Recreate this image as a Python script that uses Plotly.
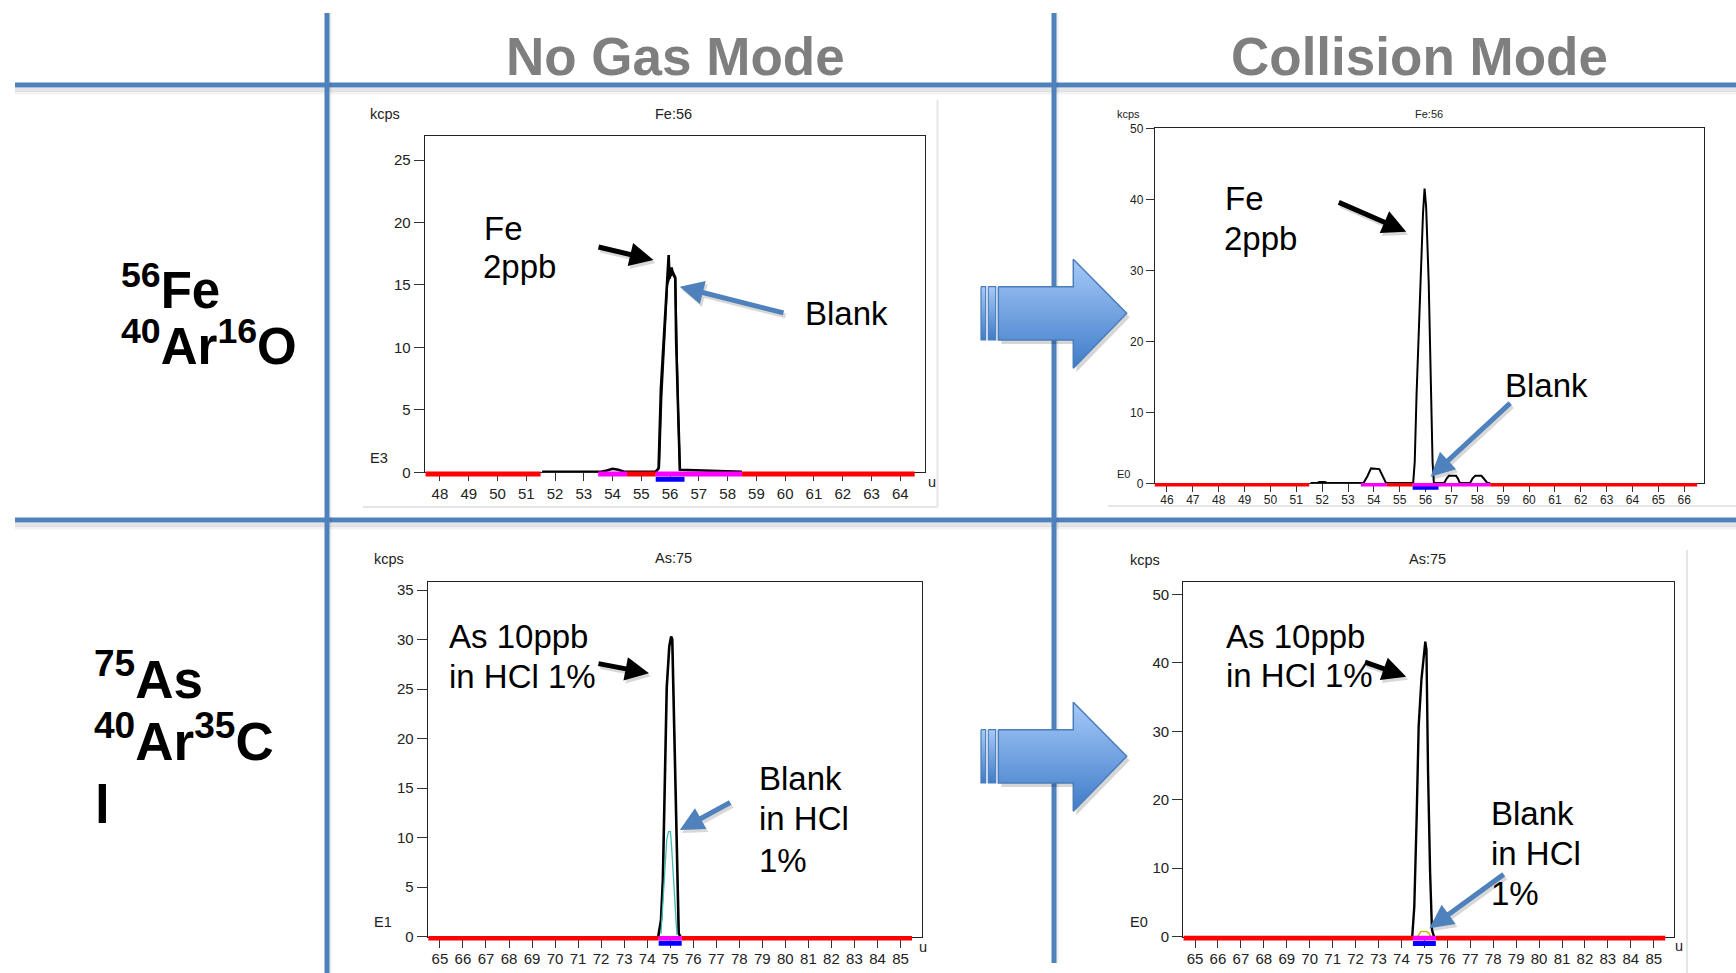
import plotly.graph_objects as go

# ======================= DATA =======================
# Panel 1 : Fe:56, No Gas mode (kcps, E3)
fe_ng_mass = [51.55, 53.6, 53.8, 54.0, 54.2, 54.4, 55.5, 55.6, 55.68, 55.79, 55.88, 55.95,
              55.98, 56.01, 56.05, 56.08, 56.13, 56.18, 56.21, 56.27, 56.34, 58.5]
fe_ng_std = [0.05, 0.05, 0.15, 0.28, 0.2, 0.05, 0.05, 0.3, 6.7, 11.3, 15.3, 17.4,
             15.5, 15.8, 16.4, 16.1, 15.8, 15.6, 10.5, 5.1, 0.2, 0.05]
fe_ng_blank_mass = [55.5, 55.62, 55.7, 55.8, 55.9, 55.98, 56.08, 56.18, 56.22, 56.28, 56.34]
fe_ng_blank = [0.05, 0.4, 6.0, 11.0, 15.0, 15.6, 15.9, 15.5, 10.2, 4.8, 0.2]
fe_ng_ticks = [48, 49, 50, 51, 52, 53, 54, 55, 56, 57, 58, 59, 60, 61, 62, 63, 64]
fe_ng_yticks = [0, 5, 10, 15, 20, 25]

# Panel 2 : Fe:56, Collision mode (kcps, E0)
fe_col_mass = [51.55, 51.8, 51.9, 52.1, 52.2, 53.6, 53.75, 53.89, 54.21, 54.35, 54.47,
               55.52, 55.58, 55.65, 55.8, 55.9, 55.96, 56.02, 56.12, 56.2, 56.27, 56.32,
               56.72, 56.82, 56.9, 57.18, 57.26, 57.32, 57.72, 57.82, 57.92, 58.16, 58.26,
               58.39, 58.5]
fe_col_std = [0.05, 0.05, 0.2, 0.2, 0.05, 0.05, 1.0, 2.1, 2.0, 1.0, 0.05,
              0.05, 3.0, 12.4, 28.4, 38.0, 41.5, 39.0, 28.4, 14.3, 3.0, 0.05,
              0.05, 0.7, 1.05, 1.05, 0.6, 0.05, 0.05, 0.7, 1.05, 1.05, 0.6,
              0.05, 0.05]
fe_col_ticks = [46, 47, 48, 49, 50, 51, 52, 53, 54, 55, 56, 57, 58, 59, 60, 61, 62, 63, 64, 65, 66]
fe_col_yticks = [0, 10, 20, 30, 40, 50]

# Panel 3 : As:75, No Gas mode (kcps, E1)
as_ng_mass = [74.48, 74.6, 74.68, 74.76, 74.85, 74.96, 75.04, 75.09, 75.17, 75.22, 75.29, 75.37, 75.45]
as_ng_std = [0.0, 1.7, 5.7, 15.8, 25.2, 29.3, 30.3, 30.0, 21.2, 16.5, 7.1, 0.3, 0.0]
as_ng_blank_mass = [74.6, 74.73, 74.85, 74.93, 75.01, 75.06, 75.14, 75.22, 75.29]
as_ng_blank = [0.3, 5.7, 9.8, 10.6, 10.6, 9.1, 5.7, 2.0, 0.2]
as_ticks = [65, 66, 67, 68, 69, 70, 71, 72, 73, 74, 75, 76, 77, 78, 79, 80, 81, 82, 83, 84, 85]
as_ng_yticks = [0, 5, 10, 15, 20, 25, 30, 35]

# Panel 4 : As:75, Collision mode (kcps, E0)
as_col_mass = [74.47, 74.56, 74.66, 74.75, 74.87, 74.99, 75.04, 75.09, 75.16, 75.25, 75.33, 75.42]
as_col_std = [0.0, 4.4, 17.0, 30.7, 37.5, 42.4, 43.1, 41.9, 23.9, 9.3, 1.0, 0.0]
as_col_blank_mass = [74.7, 74.78, 74.85, 75.1, 75.2, 75.27]
as_col_blank = [0.0, 0.5, 0.75, 0.75, 0.5, 0.0]
as_col_yticks = [0, 10, 20, 30, 40, 50]

# acquisition mass windows (u)
fe_ng_red = [[47.5, 51.5], [54.5, 55.5], [58.5, 64.5]]
fe_col_red = [[45.5, 51.5], [54.5, 55.5], [58.5, 66.5]]
fe_magenta = [[53.5, 54.5], [55.5, 58.5]]
fe_blue = [[55.5, 56.5]]
as_red = [[64.5, 74.5], [75.5, 85.5]]
as_magenta = [[74.5, 75.5]]
as_blue = [[74.5, 75.5]]

# ======================= LAYOUT CONSTANTS (pixels) =======================
W, H = 1736, 973
FONT = "Liberation Sans, Arial, Helvetica, sans-serif"
BLUE = "#4f81bd"


def fx(x):
    return x / W


def fy(y):
    return 1 - y / H


panels = [
    dict(L=424.7, R=925.0, T=135.7, Z=472.3, xr=[47.47, 64.86], yr=[0, 26.95],
         xt=fe_ng_ticks, yt=fe_ng_yticks, fs=15, ytl=10, xtl=8, lw=2.6, xso=0,
         series=[(fe_ng_blank_mass, fe_ng_blank, "#111111", 2.0),
                 (fe_ng_mass, fe_ng_std, "black", 2.6)],
         red=fe_ng_red, mag=fe_magenta, blue=fe_blue, ry=-1.8, rw=5, by=-7.0, bw=5,
         kcps=(369, 114), title=("Fe:56", 673.4, 114), exp=("E3", 369, 458), u=(927, 482), sfs=14.5),
    dict(L=1154.8, R=1704.4, T=128.3, Z=483.3, xr=[45.53, 66.78], yr=[0, 50],
         xt=fe_col_ticks, yt=fe_col_yticks, fs=12, ytl=8, xtl=8, lw=2.0, xso=-3,
         series=[(fe_col_mass, fe_col_std, "black", 2.0)],
         red=fe_col_red, mag=fe_magenta, blue=fe_blue, ry=-1.5, rw=3.5, by=-4.6, bw=3.6,
         kcps=(1116, 114), title=("Fe:56", 1429, 114), exp=("E0", 1116, 474), u=None, sfs=11),
    dict(L=427.7, R=921.7, T=581.7, Z=936.7, xr=[64.47, 85.92], yr=[0, 35.84],
         xt=as_ticks, yt=as_ng_yticks, fs=15, ytl=10, xtl=10, lw=2.6, xso=-2,
         series=[(as_ng_mass, as_ng_std, "black", 2.6),
                 (as_ng_blank_mass, as_ng_blank, "#3cbcb4", 1.3)],
         red=as_red, mag=as_magenta, blue=as_blue, ry=-1.5, rw=4.5, by=-6.6, bw=5,
         kcps=(373, 559), title=("As:75", 673.4, 558), exp=("E1", 373, 922), u=(918, 947), sfs=14.5),
    dict(L=1183.1, R=1673.7, T=581.7, Z=936.7, xr=[64.48, 85.87], yr=[0, 51.84],
         xt=as_ticks, yt=as_col_yticks, fs=15, ytl=10, xtl=10, lw=2.6, xso=-2,
         series=[(as_col_mass, as_col_std, "black", 2.4),
                 (as_col_blank_mass, as_col_blank, "#c8bc00", 1.5)],
         red=as_red, mag=as_magenta, blue=as_blue, ry=-1.4, rw=4.6, by=-6.8, bw=5,
         kcps=(1129, 560), title=("As:75", 1427.4, 559), exp=("E0", 1129, 922), u=(1674, 946), sfs=14.5),
]

fig = go.Figure()
layout = dict(width=W, height=H, autosize=False,
              margin=dict(l=0, r=0, t=0, b=0, pad=0, autoexpand=False),
              paper_bgcolor="white", plot_bgcolor="rgba(0,0,0,0)", showlegend=False)
annotations = []
shapes = []


def segs(windows, level):
    xs, ys = [], []
    for a, b in windows:
        xs += [a, b, None]
        ys += [level, level, None]
    return xs, ys


for i, p in enumerate(panels):
    n = i + 1          # main subplot
    m = i + 5          # mass-window bar strip
    xa, ya = f"x{n}", f"y{n}"
    xb, yb = f"x{m}", f"y{m}"
    for (mx, my, col, w) in p["series"]:
        fig.add_trace(go.Scatter(x=mx, y=my, mode="lines", line=dict(color=col, width=w),
                                 xaxis=xa, yaxis=ya, hoverinfo="skip"))
    for key, col, lev, wid in [("red", "#ff0000", p["ry"], p["rw"]),
                               ("blue", "#0000ff", p["by"], p["bw"]),
                               ("mag", "#ff00ff", p["ry"], p["rw"])]:
        sx, sy = segs(p[key], lev)
        fig.add_trace(go.Scatter(x=sx, y=sy, mode="lines", line=dict(color=col, width=wid),
                                 xaxis=xb, yaxis=yb, hoverinfo="skip"))
    dom_x = [fx(p["L"]), fx(p["R"])]
    tickfont = dict(family=FONT, size=p["fs"], color="#222")
    layout[f"xaxis{n}"] = dict(domain=dom_x, range=p["xr"], anchor=ya, tickmode="array",
                               tickvals=p["xt"], ticktext=[str(t) for t in p["xt"]],
                               ticks="outside", ticklen=p["xtl"], tickcolor="#333", tickwidth=1,
                               showline=True, linecolor="#222", linewidth=1, mirror=True,
                               showgrid=False, zeroline=False, tickfont=tickfont, fixedrange=True,
                               automargin=False, ticklabelstandoff=p["xso"])
    layout[f"yaxis{n}"] = dict(domain=[fy(p["Z"]), fy(p["T"])], range=p["yr"], anchor=xa,
                               tickmode="array", tickvals=p["yt"], ticktext=[str(t) for t in p["yt"]],
                               ticks="outside", ticklen=p["ytl"], tickcolor="#333", tickwidth=1,
                               showline=True, linecolor="#222", linewidth=1, mirror=True,
                               showgrid=False, zeroline=False, tickfont=tickfont, fixedrange=True,
                               automargin=False)
    layout[f"xaxis{m}"] = dict(domain=dom_x, range=p["xr"], anchor=yb, visible=False, fixedrange=True)
    layout[f"yaxis{m}"] = dict(domain=[fy(p["Z"] + 14), fy(p["Z"] - 6)], range=[-14, 6],
                               anchor=xb, visible=False, fixedrange=True)

    sf = dict(family=FONT, size=p["sfs"], color="#222")
    annotations.append(dict(text="kcps", x=p["kcps"][0], y=p["kcps"][1], xref="x9", yref="y9",
                            xanchor="left", yanchor="middle", showarrow=False, font=sf, borderpad=0))
    t, tx, ty = p["title"]
    annotations.append(dict(text=t, x=tx, y=ty, xref="x9", yref="y9", xanchor="center",
                            yanchor="middle", showarrow=False, font=sf, borderpad=0))
    e, ex, ey = p["exp"]
    annotations.append(dict(text=e, x=ex, y=ey, xref="x9", yref="y9", xanchor="left",
                            yanchor="middle", showarrow=False, font=sf, borderpad=0))
    if p["u"]:
        annotations.append(dict(text="u", x=p["u"][0], y=p["u"][1], xref="x9", yref="y9",
                                xanchor="left", yanchor="middle", showarrow=False, font=sf, borderpad=0))

# overlay pixel axes for decorations
layout["xaxis9"] = dict(domain=[0, 1], range=[0, W], anchor="y9", visible=False, fixedrange=True)
layout["yaxis9"] = dict(domain=[0, 1], range=[H, 0], anchor="x9", visible=False, fixedrange=True)

# ---------------- block arrows (gradient) ----------------
for dy in (0, 443):
    top, bot = 259.3 + dy, 368.3 + dy
    body_t, body_b = 286.7 + dy, 340.0 + dy
    tip = 313.3 + dy
    poly_x = [998.3, 1073.3, 1073.3, 1126.7, 1073.3, 1073.3, 998.3, 998.3]
    poly_y = [body_t, body_t, top, tip, bot, body_b, body_b, body_t]
    fig.add_trace(go.Scatter(x=[v + 3 for v in poly_x], y=[v + 4 for v in poly_y], mode="lines",
                             fill="toself", fillcolor="rgba(0,0,0,0.16)", line=dict(width=0),
                             xaxis="x9", yaxis="y9", hoverinfo="skip"))
    grad = dict(type="vertical", colorscale=[[0, "#a6c9f8"], [1, "#3f7cc9"]], start=top, stop=bot)
    gradb = dict(type="vertical", colorscale=[[0, "#a6c9f8"], [1, "#3f7cc9"]], start=body_t, stop=body_b)
    for sx0, sx1 in [(981.0, 985.7), (988.3, 995.7)]:
        fig.add_trace(go.Scatter(x=[sx0, sx1, sx1, sx0, sx0], y=[body_t, body_t, body_b, body_b, body_t],
                                 mode="lines", fill="toself", fillgradient=gradb,
                                 line=dict(color="#4a7dbb", width=1.2), xaxis="x9", yaxis="y9",
                                 hoverinfo="skip"))
    fig.add_trace(go.Scatter(x=poly_x, y=poly_y, mode="lines", fill="toself", fillgradient=grad,
                             line=dict(color="#4a7dbb", width=1.5), xaxis="x9", yaxis="y9",
                             hoverinfo="skip"))

# ---------------- grid lines (with soft shadow) ----------------
def hline(y, x0, x1):
    shapes.append(dict(type="line", xref="paper", yref="paper", x0=fx(x0), x1=fx(x1),
                       y0=fy(y + 5), y1=fy(y + 5), line=dict(color="rgba(0,0,0,0.10)", width=4), layer="below"))
    shapes.append(dict(type="line", xref="paper", yref="paper", x0=fx(x0), x1=fx(x1),
                       y0=fy(y + 8), y1=fy(y + 8), line=dict(color="rgba(0,0,0,0.05)", width=3), layer="below"))
    shapes.append(dict(type="line", xref="paper", yref="paper", x0=fx(x0), x1=fx(x1),
                       y0=fy(y), y1=fy(y), line=dict(color=BLUE, width=5), layer="below"))


def vline(x, y0, y1):
    shapes.append(dict(type="line", xref="paper", yref="paper", x0=fx(x + 3), x1=fx(x + 3),
                       y0=fy(y0), y1=fy(y1), line=dict(color="rgba(0,0,0,0.07)", width=3), layer="below"))
    shapes.append(dict(type="line", xref="paper", yref="paper", x0=fx(x), x1=fx(x),
                       y0=fy(y0), y1=fy(y1), line=dict(color=BLUE, width=5), layer="below"))


hline(85, 15, W)
hline(520, 15, W)
vline(327, 13, H)
vline(1054, 13, 963)

# faint screenshot frames
for (x0, y0, x1, y1) in [(937.5, 100, 937.5, 507), (363, 507, 937.5, 507),
                         (1108, 506, W, 506), (1687, 550, 1687, H)]:
    shapes.append(dict(type="line", xref="paper", yref="paper", x0=fx(x0), x1=fx(x1),
                       y0=fy(y0), y1=fy(y1), line=dict(color="#e6e6e6", width=2), layer="below"))

# ---------------- headers ----------------
for txt, cx in [("No Gas Mode", 675), ("Collision Mode", 1419.5)]:
    annotations.append(dict(text=f"<b>{txt}</b>", x=cx, y=56, xref="x9", yref="y9",
                            xanchor="center", yanchor="middle", showarrow=False, borderpad=0,
                            font=dict(family=FONT, size=53, color="#7f7f7f")))

# ---------------- row labels ----------------
row_labels = [("<b><sup>56</sup>Fe</b>", 120, 286.5, 51),
              ("<b><sup>40</sup>Ar<sup>16</sup>O</b>", 120, 343.1, 51),
              ("<b><sup>75</sup>As</b>", 93, 675.2, 53),
              ("<b><sup>40</sup>Ar<sup>35</sup>C</b>", 93, 737.5, 53),
              ("<b>l</b>", 94, 804.7, 53)]
for txt, x, y, s in row_labels:
    annotations.append(dict(text=txt, x=x, y=y, xref="x9", yref="y9", xanchor="left",
                            yanchor="middle", showarrow=False, borderpad=0,
                            font=dict(family=FONT, size=s, color="black")))

# ---------------- in-chart callouts ----------------
callouts = [("Fe", 484, 240), ("2ppb", 483.5, 278.3), ("Blank", 805.8, 325),
            ("Fe", 1225, 210), ("2ppb", 1224, 250), ("Blank", 1505.6, 396.7),
            ("As 10ppb", 449.5, 648.3), ("in HCl 1%", 449.5, 688.3),
            ("Blank", 759.5, 790), ("in HCl", 759.5, 830), ("1%", 759.5, 871.7),
            ("As 10ppb", 1226.6, 648.3), ("in HCl 1%", 1226.6, 686.7),
            ("Blank", 1491.3, 825), ("in HCl", 1491.3, 865), ("1%", 1491.3, 905)]
for txt, x, base in callouts:
    annotations.append(dict(text=txt, x=x - 1.5, y=base - 11.4, xref="x9", yref="y9", xanchor="left",
                            yanchor="middle", showarrow=False, borderpad=0,
                            font=dict(family=FONT, size=33, color="black")))

arrows = [((597, 246.7), (653.5, 260), "black"),
          ((1337.3, 201.7), (1406.2, 231.7), "black"),
          ((597, 663.3), (649, 673.3), "black"),
          ((1363.5, 661.7), (1406.2, 676.7), "black"),
          ((785, 313.3), (679.8, 286.7), BLUE),
          ((1511.7, 401.7), (1430.6, 476.7), BLUE),
          ((731.7, 801.7), (679.8, 830), BLUE),
          ((1505.2, 873.3), (1429.4, 928.3), BLUE)]
for (tx, ty), (hx, hy), col in arrows:
    annotations.append(dict(text="", x=hx + 2, y=hy + 3, ax=tx + 2, ay=ty + 3, xref="x9", yref="y9",
                            axref="x9", ayref="y9", showarrow=True, arrowhead=2, arrowsize=0.95,
                            arrowwidth=5, arrowcolor="rgba(0,0,0,0.15)", standoff=0))
    annotations.append(dict(text="", x=hx, y=hy, ax=tx, ay=ty, xref="x9", yref="y9",
                            axref="x9", ayref="y9", showarrow=True, arrowhead=2, arrowsize=0.95,
                            arrowwidth=5, arrowcolor=col, standoff=0))

layout["annotations"] = annotations
layout["shapes"] = shapes
fig.update_layout(**layout)

fig.write_html("out.html", config={"displayModeBar": False, "staticPlot": True},
               post_script="document.documentElement.style.margin='0';document.body.style.margin='0';"
                           "document.body.style.padding='0';document.body.style.overflow='hidden';")
